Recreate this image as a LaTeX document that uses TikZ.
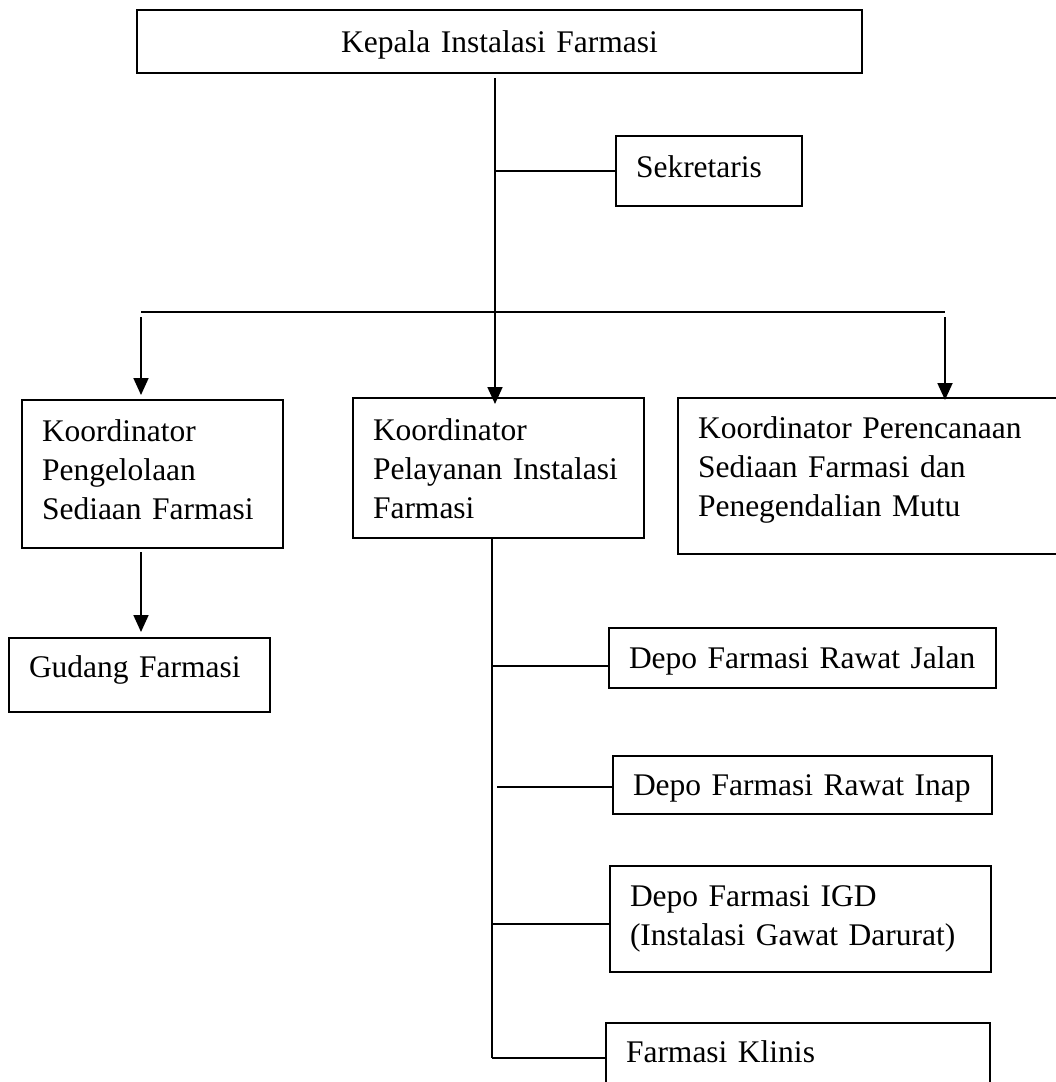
\documentclass[tikz,border=0pt]{standalone}
\usepackage{fontspec}
\setmainfont{Liberation Serif}
\usetikzlibrary{arrows.meta}
\tikzset{unit/.style={draw,line width=1.8pt,anchor=north west,outer sep=0pt,align=left,inner xsep=20pt,inner ysep=0pt,text depth=0pt,font=\fontsize{31.5}{39}\selectfont}}
\tikzset{link/.style={line width=1.8pt}}
\tikzset{down/.style={link,-{Triangle[width=15pt,length=17pt]}}}

\begin{document}
\begin{tikzpicture}[x=1pt,y=-1pt]
	\useasboundingbox (0,0) rectangle (1056,1082);
	\clip (0,0) rectangle (1056,1082);

	% units
	\node[unit,align=center,text width=685pt,minimum height=63pt] (kepala) at (137,10) {Kepala Instalasi Farmasi};
	\node[unit,text width=146pt,minimum height=70pt,text depth=9.5pt] (sekretaris) at (616,136) {Sekretaris};
	\node[unit,text width=221pt,minimum height=148pt,text depth=87.5pt] (pengelolaan) at (22,400) {Koordinator\\Pengelolaan\\Sediaan Farmasi};
	\node[unit,text width=251pt,minimum height=140pt,text depth=77.5pt] (pelayanan) at (353,398) {Koordinator\\Pelayanan Instalasi\\Farmasi};
	\node[unit,text width=380pt,minimum height=156pt,text depth=97.5pt] (perencanaan) at (678,398) {Koordinator Perencanaan\\Sediaan Farmasi dan\\Penegendalian Mutu};
	\node[unit,text width=221pt,minimum height=74pt,text depth=17.5pt] (gudang) at (9,638) {Gudang Farmasi};
	\node[unit,text width=347pt,minimum height=60pt] (jalan) at (609,628) {Depo Farmasi Rawat Jalan};
	\node[unit,text width=339pt,minimum height=58pt] (inap) at (613,756) {Depo Farmasi Rawat Inap};
	\node[unit,text width=341pt,minimum height=106pt,text depth=45.5pt] (igd) at (610,866) {Depo Farmasi IGD\\(Instalasi Gawat Darurat)};
	\node[unit,text width=344pt,minimum height=120pt,text depth=63.5pt] (klinis) at (606,1023) {Farmasi Klinis};

	% head trunk and bar
	\coordinate (hub) at (495,312);
	\coordinate (barL) at (141,312);
	\coordinate (barR) at (945,312);
	\draw[link] ([yshift=-5pt]hub |- kepala.south) -- (hub);
	\draw[link] (sekretaris.west) -- (sekretaris.west -| hub);
	\draw[link] (barL) -- (barR);
	\draw[down,shorten >=-6pt] (hub) -- (hub |- pelayanan.north);
	\draw[down,shorten >=5pt] ([yshift=-5pt]barL) -- (barL |- pengelolaan.north);
	\draw[down,shorten >=-2pt] ([yshift=-5pt]barR) -- (barR |- perencanaan.north);
	\draw[down,shorten >=6pt] ([yshift=-4pt]barL |- pengelolaan.south) -- (barL |- gudang.north);

	% depo branches
	\coordinate (spine) at (492,1058);
	\draw[link] (spine |- pelayanan.south) -- (spine);
	\draw[link] ([yshift=-8pt]jalan.west) -- ([yshift=-8pt]jalan.west -| spine);
	\draw[link] ([yshift=-2pt]inap.west) -- ([yshift=-2pt,xshift=5pt]inap.west -| spine);
	\draw[link] ([yshift=-5pt]igd.west) -- ([yshift=-5pt]igd.west -| spine);
	\draw[link] (spine -| klinis.west) -- (spine);
\end{tikzpicture}
\end{document}
